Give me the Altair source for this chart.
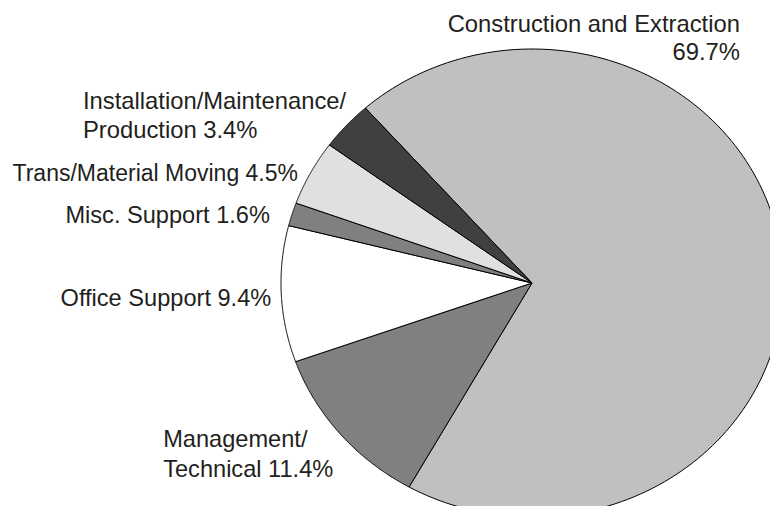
import altair as alt
import pandas as pd

categories = [
    "Construction and Extraction",
    "Management/Technical",
    "Office Support",
    "Misc. Support",
    "Trans/Material Moving",
    "Installation/Maintenance/Production",
]
shares = [69.7, 11.4, 9.4, 1.6, 4.5, 3.4]
labels = [
    "Construction and Extraction\n69.7%",
    "Management/\nTechnical 11.4%",
    "Office Support 9.4%",
    "Misc. Support 1.6%",
    "Trans/Material Moving 4.5%",
    "Installation/Maintenance/\nProduction 3.4%",
]
fills = ["#c0c0c0", "#808080", "#ffffff", "#808080", "#e0e0e0", "#404040"]

START_DEG = -41.6   # where the first slice begins (degrees clockwise from 12 o'clock)
N = 160             # arc resolution per slice

df = pd.DataFrame({"category": categories, "share": shares,
                   "label": labels, "rank": list(range(len(categories)))})

xscale = alt.Scale(domain=[-1, 1], range=[273, 775], nice=False, zero=False)
yscale = alt.Scale(domain=[-1, 1], range=[509, 41], nice=False, zero=False)

base = (
    alt.Chart(df)
    .transform_window(cum="sum(share)", sort=[alt.SortField("rank")])
    .transform_calculate(a0=f"({START_DEG} + (datum.cum - datum.share) * 3.6) * PI / 180")
    .transform_calculate(a1=f"({START_DEG} + datum.cum * 3.6) * PI / 180")
)

slices = (
    base.transform_calculate(step=f"sequence(0, {N + 3})")
    .transform_flatten(["step"])
    .transform_calculate(edge=f"datum.step == 0 || datum.step == {N + 2}")
    .transform_calculate(ang=f"datum.a0 + (datum.a1 - datum.a0) * clamp((datum.step - 1) / {N}, 0, 1)")
    .transform_calculate(px="datum.edge ? 0 : sin(datum.ang)")
    .transform_calculate(py="datum.edge ? 0 : cos(datum.ang)")
    .mark_line(stroke="black", strokeWidth=1, strokeJoin="round", interpolate="linear")
    .encode(
        x=alt.X("px:Q", scale=xscale, axis=None),
        y=alt.Y("py:Q", scale=yscale, axis=None),
        order=alt.Order("step:Q"),
        detail="category:N",
        fill=alt.Fill("category:N", scale=alt.Scale(domain=categories, range=fills), legend=None),
    )
)

label_base = (
    base.transform_calculate(mid="(datum.a0 + datum.a1) / 2")
    .transform_calculate(px="sin(datum.mid)")
    .transform_calculate(py="cos(datum.mid)")
)

placements = {
    "Construction and Extraction": dict(align="right", dx=-41.6, dy=-226.3, lineHeight=28.3, fontSize=23.8),
    "Management/Technical": dict(align="left", dx=-177.0, dy=12.8, lineHeight=30.5, fontSize=23.6),
    "Office Support": dict(align="right", dx=-10.0, dy=11.9, lineHeight=29, fontSize=23.6),
    "Misc. Support": dict(align="right", dx=-22.1, dy=8.5, lineHeight=29, fontSize=23.6),
    "Trans/Material Moving": dict(align="right", dx=-12.5, dy=8.1, lineHeight=29, fontSize=23.0),
    "Installation/Maintenance/Production": dict(align="left", dx=-263.4, dy=-16.3, lineHeight=28.5, fontSize=23.8),
}

texts = []
for cat in categories:
    p = placements[cat]
    t = (
        label_base.transform_filter(alt.datum.category == cat)
        .mark_text(baseline="alphabetic", lineBreak="\n",
                   font="Liberation Sans", color="#231f20", **p)
        .encode(
            x=alt.X("px:Q", scale=xscale, axis=None),
            y=alt.Y("py:Q", scale=yscale, axis=None),
            text="label:N",
        )
    )
    texts.append(t)

chart = (
    alt.layer(slices, *texts)
    .properties(width=762, height=498, padding=0,
                autosize=alt.AutoSizeParams(type="none"))
    .configure_view(stroke=None)
)

chart.save("out.html", embed_options={"renderer": "svg", "actions": False})
